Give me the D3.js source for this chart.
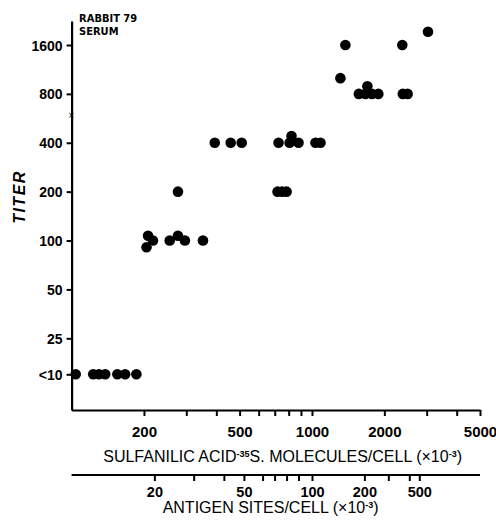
<!DOCTYPE html>
<html lang="en">
<head>
<meta charset="UTF-8">
<title>Rabbit 79 serum titer</title>
<script src="https://d3js.org/d3.v7.min.js"></script>
<style>
  body { margin: 0; background: #fff; }
  text { fill: #000; }
  .tick text { font-family: "Liberation Sans", Arial, sans-serif; font-weight: bold; }
  .axis-title { font-family: "Liberation Sans", Arial, sans-serif; font-size: 16px; }
</style>
</head>
<body>
<script>
var totalWidth = 496;
var totalHeight = 527;
var margin = {top: 21, left: 71.6, right: 16, bottom: 117};
var width = totalWidth - margin.left - margin.right;
var height = totalHeight - margin.top - margin.bottom;

// sulfanilic acid-35S molecules/cell (x10^-3) and titer for each serum sample
var molecules = [104, 123, 130, 138, 155, 167, 186,
                 205, 208, 218, 256, 277, 296, 352, 277,
                 719, 751, 784,
                 394, 459, 510, 726, 807, 822, 879, 1034, 1085,
                 1313, 1567, 1667, 1700, 1775, 1888, 2387, 2500,
                 1377, 2375, 3038];
var titers = [10, 10, 10, 10, 10, 10, 10,
              91, 107, 100, 100, 107, 100, 100, 200,
              200, 200, 200,
              400, 400, 400, 400, 400, 440, 400, 400, 400,
              1000, 800, 800, 890, 800, 800, 800, 800,
              1600, 1600, 1930];

var moleculeTicks = [200, 300, 400, 500, 600, 700, 800, 900, 1000, 2000, 3000, 4000, 5000];
var moleculeLabels = [200, 500, 1000, 2000, 5000];

// antigen sites/cell (x10^-3) and the molecule value they line up with
var siteTicks = [20, 30, 40, 50, 60, 70, 80, 90, 100, 200, 300, 400, 500];
var siteMolecules = [221, 322, 430, 521, 623, 699, 784, 879, 1000, 1652, 2078, 2540, 2795];
var siteLabels = [20, 50, 100, 200, 500];

var titerTicks = [10, 25, 50, 100, 200, 400, 800, 1600];
var titerLabels = ["<10", "25", "50", "100", "200", "400", "800", "1600"];

var x = d3.scaleLog()
    .domain([100, 5000])
    .range([0, width]);

// "<10" sits a little above where 10 would fall on the doubling scale
var y = d3.scaleLog()
    .domain([5, 10, 25, 1600, 2250])
    .range([height, 353.3, 317.3, 24, 0]);

var xSites = d3.scaleLog()
    .domain(siteTicks)
    .range(siteMolecules.map(function(m){ return x(m); }));

var svg = d3.select("body").append("svg")
    .attr("width", totalWidth)
    .attr("height", totalHeight);

var chart = svg.append("g")
    .attr("transform", "translate(" + margin.left + "," + margin.top + ")");

// y axis
var yAxis = d3.axisLeft(y)
    .tickValues(titerTicks)
    .tickFormat(function(d, i){ return titerLabels[i]; })
    .tickSize(5)
    .tickSizeOuter(0)
    .tickPadding(4);

var gy = chart.append("g").call(yAxis);
gy.select(".domain").attr("stroke-width", 2.2);
gy.selectAll(".tick line").attr("stroke-width", 2);
gy.selectAll(".tick text").style("font-size", "14px").attr("dy", "0.36em");

// molecules axis
var xAxis = d3.axisBottom(x)
    .tickValues(moleculeTicks)
    .tickFormat(function(d){ return moleculeLabels.indexOf(d) >= 0 ? d : ""; })
    .tickSize(6)
    .tickSizeOuter(0)
    .tickPadding(10);

var gx = chart.append("g")
    .attr("transform", "translate(0," + height + ")")
    .call(xAxis);
gx.select(".domain").attr("stroke-width", 2.2);
gx.selectAll(".tick line").attr("stroke-width", 2);
gx.selectAll(".tick text").style("font-size", "15px");

chart.append("text")
    .attr("class", "axis-title")
    .attr("x", 211)
    .attr("y", height + 52)
    .attr("text-anchor", "middle")
    .html('SULFANILIC ACID<tspan dy="-5" font-size="9" font-weight="bold">-35</tspan><tspan dy="5">S. MOLECULES/CELL (×10</tspan><tspan dy="-5" font-size="9" font-weight="bold">-3</tspan><tspan dy="5">)</tspan>');

// antigen sites axis
var siteAxis = d3.axisBottom(xSites)
    .tickValues(siteTicks)
    .tickFormat(function(d){ return siteLabels.indexOf(d) >= 0 ? d : ""; })
    .tickSize(6)
    .tickSizeOuter(0)
    .tickPadding(6);

var gs = chart.append("g")
    .attr("transform", "translate(0," + (height + 65) + ")")
    .call(siteAxis);
gs.select(".domain").remove();
gs.append("line")
    .attr("x1", 0)
    .attr("x2", width)
    .attr("stroke", "#000")
    .attr("stroke-width", 2.2);
gs.selectAll(".tick line").attr("stroke-width", 2);
gs.selectAll(".tick text").style("font-size", "14.5px");

chart.append("text")
    .attr("class", "axis-title")
    .attr("x", 199)
    .attr("y", height + 103)
    .attr("text-anchor", "middle")
    .html('ANTIGEN SITES/CELL (×10<tspan dy="-5" font-size="9" font-weight="bold">-3</tspan><tspan dy="5">)</tspan>');

// y label
svg.append("text")
    .attr("transform", "translate(25,197) rotate(-90)")
    .attr("text-anchor", "middle")
    .style("font-family", "Liberation Sans, Arial, sans-serif")
    .style("font-size", "16px")
    .style("font-weight", "bold")
    .style("font-style", "italic")
    .style("letter-spacing", "1.5px")
    .text("TITER");

// serum label, two separate lines
var noteLines = ["RABBIT  79", "SERUM"];
chart.selectAll(".note")
    .data(noteLines)
    .enter()
    .append("text")
    .classed("note", true)
    .attr("x", 7.5)
    .attr("y", function(d, i){ return 1 + i * 13; })
    .style("font-family", "Liberation Sans Narrow, DejaVu Sans Condensed, sans-serif")
    .style("font-size", "11px")
    .style("font-weight", "bold")
    .text(function(d){ return d; });

// small stray mark on the axis
chart.append("text")
    .attr("x", -3.5)
    .attr("y", 97)
    .style("font-family", "DejaVu Sans, sans-serif")
    .style("font-size", "8px")
    .text("×");

// samples
chart.selectAll(".dot")
    .data(molecules)
    .enter()
    .append("circle")
    .classed("dot", true)
    .attr("cx", function(d){ return x(d); })
    .attr("cy", function(d, i){ return y(titers[i]); })
    .attr("r", 5.3)
    .style("fill", "#000");
</script>
</body>
</html>
